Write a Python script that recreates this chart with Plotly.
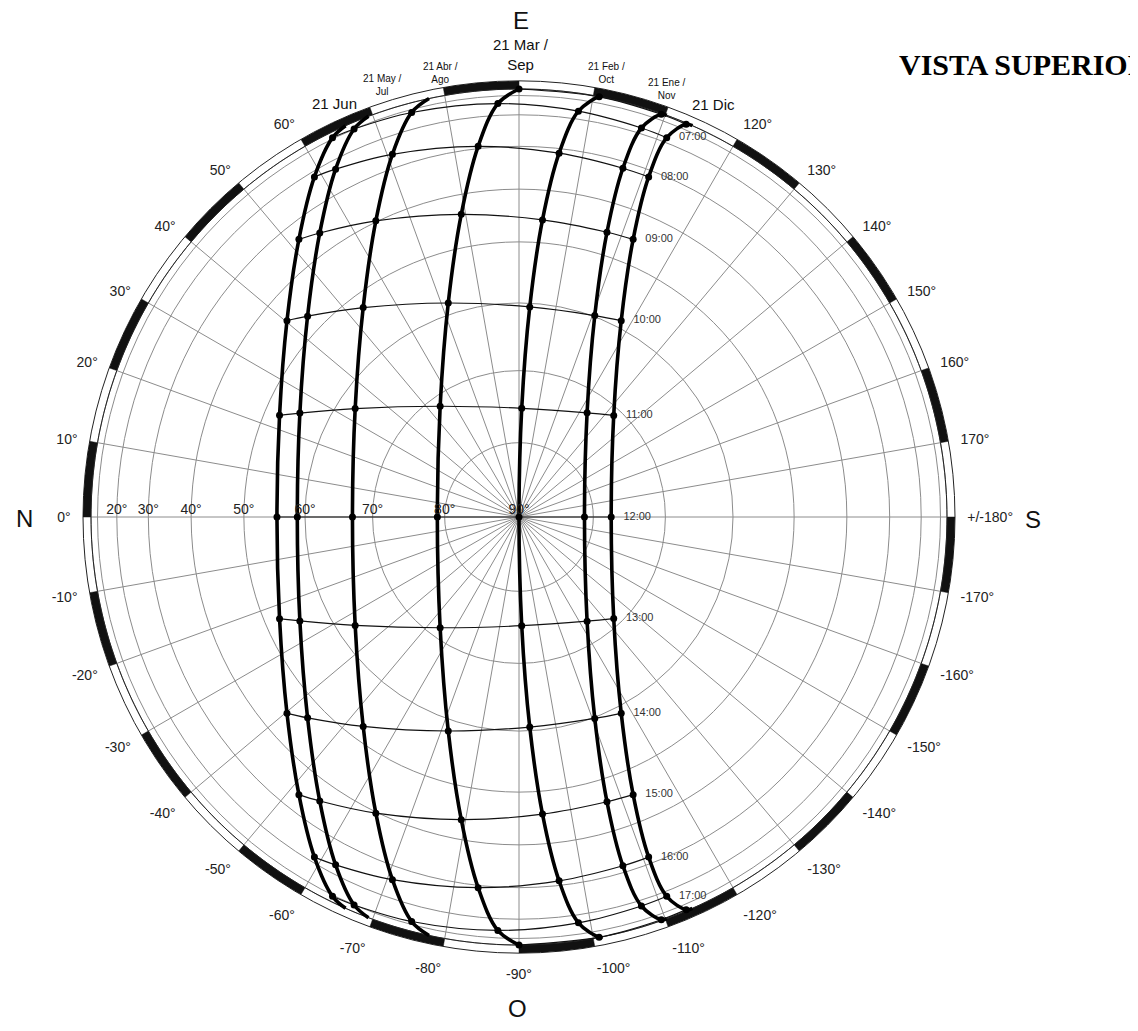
import numpy as np
import plotly.graph_objects as go

# ---------------- DATA ----------------
# Azimuth in degrees (N = 0, E = +90, S = +/-180, O = -90), altitude in degrees.
# Hour = solar hour of the point (None = sunrise / sunset on the horizon).
DATE_LABELS = ["21 Jun", "21 May / Jul", "21 Abr / Ago", "21 Mar / Sep",
               "21 Feb / Oct", "21 Ene / Nov", "21 Dic"]

JUN_HOUR = [None, 7, 8, 9, 10, 11, 12, 13, 14, 15, 16, 17, None]
JUN_AZ = [66.10, 63.82, 58.97, 51.60, 40.24, 23.00, 0.0,
          -23.00, -40.24, -51.60, -58.97, -63.82, -66.10]
JUN_ALT = [0.0, 9.04, 21.99, 34.12, 44.75, 52.57, 55.56,
           52.57, 44.75, 34.12, 21.99, 9.04, 0.0]

MAY_HOUR = [None, 7, 8, 9, 10, 11, 12, 13, 14, 15, 16, 17, None]
MAY_AZ = [69.41, 66.97, 62.20, 54.95, 43.53, 25.38, 0.0,
          -25.38, -43.53, -54.95, -62.20, -66.97, -69.41]
MAY_ALT = [0.0, 9.94, 23.25, 35.84, 47.05, 55.48, 58.80,
           55.48, 47.05, 35.84, 23.25, 9.94, 0.0]

ABR_HOUR = [None, 7, 8, 9, 10, 11, 12, 13, 14, 15, 16, 17, None]
ABR_AZ = [77.87, 75.14, 70.76, 64.20, 53.35, 33.49, 0.0,
          -33.49, -53.35, -64.20, -70.76, -75.14, -77.87]
ABR_ALT = [0.0, 12.08, 26.16, 39.78, 52.42, 62.68, 67.10,
           62.68, 52.42, 39.78, 26.16, 12.08, 0.0]

MAR_HOUR = [6, 7, 8, 9, 10, 11, 12, 13, 14, 15, 16, 17, 18]
MAR_AZ = [90.0, 87.07, 83.71, 79.20, 71.71, 54.55, 0.0,
          -54.55, -71.71, -79.20, -83.71, -87.07, -90.0]
MAR_ALT = [0.0, 14.72, 29.39, 43.96, 58.22, 71.48, 79.00,
           71.48, 58.22, 43.96, 29.39, 14.72, 0.0]

FEB_HOUR = [None, 6, 7, 8, 9, 10, 11, 12, 13, 14, 15, 16, 17, 18, None]
FEB_AZ = [101.21, 100.80, 98.33, 96.29, 94.52, 92.93, 91.44, 0.0,
          -91.44, -92.93, -94.52, -96.29, -98.33, -100.80, -101.21]
FEB_ALT = [0.0, 2.09, 16.61, 31.21, 45.87, 60.57, 75.28, 90.0,
           75.28, 60.57, 45.87, 31.21, 16.61, 2.09, 0.0]

ENE_HOUR = [None, 6, 7, 8, 9, 10, 11, 12, 13, 14, 15, 16, 17, 18, None]
ENE_AZ = [110.19, 109.46, 107.47, 106.59, 107.17, 110.62, 123.16, 180.0,
          -123.16, -110.62, -107.17, -106.59, -107.47, -109.46, -110.19]
ENE_ALT = [0.0, 3.71, 17.68, 31.76, 45.87, 59.82, 73.09, 81.20,
           73.09, 59.82, 45.87, 31.76, 17.68, 3.71, 0.0]

DIC_HOUR = [None, 6, 7, 8, 9, 10, 11, 12, 13, 14, 15, 16, 17, 18, None]
DIC_AZ = [113.90, 113.06, 111.28, 110.87, 112.35, 117.51, 132.99, 180.0,
          -132.99, -117.51, -112.35, -110.87, -111.28, -113.06, -113.90]
DIC_ALT = [0.0, 4.35, 18.00, 31.75, 45.46, 58.86, 71.06, 77.56,
           71.06, 58.86, 45.46, 31.75, 18.00, 4.35, 0.0]

HOUR_LABELS = ["07:00", "08:00", "09:00", "10:00", "11:00", "12:00",
               "13:00", "14:00", "15:00", "16:00", "17:00"]
LABELLED_HOURS = [7, 8, 9, 10, 11, 12, 13, 14, 15, 16, 17]
HOUR_LINE_HOURS = [6, 7, 8, 9, 10, 11, 12, 13, 14, 15, 16, 17, 18]

ALT_TICKS = [0, 10, 20, 30, 40, 50, 60, 70, 80, 90]
ALT_LABEL_VALUES = [20, 30, 40, 50, 60, 70, 80, 90]
ALT_LABEL_TEXT = ["20°", "30°", "40°", "50°", "60°", "70°", "80°", "90°"]
AZ_TICKS = list(range(0, 360, 10))
AZ_TICK_TEXT = ["0°", "10°", "20°", "30°", "40°", "50°", "60°", "", "", "", "", "",
                "120°", "130°", "140°", "150°", "160°", "170°", "+/-180°",
                "-170°", "-160°", "-150°", "-140°", "-130°", "-120°", "-110°",
                "-100°", "-90°", "-80°", "-70°", "-60°", "-50°", "-40°", "-30°",
                "-20°", "-10°"]

SERIES = [
    (JUN_HOUR, JUN_AZ, JUN_ALT),
    (MAY_HOUR, MAY_AZ, MAY_ALT),
    (ABR_HOUR, ABR_AZ, ABR_ALT),
    (MAR_HOUR, MAR_AZ, MAR_ALT),
    (FEB_HOUR, FEB_AZ, FEB_ALT),
    (ENE_HOUR, ENE_AZ, ENE_ALT),
    (DIC_HOUR, DIC_AZ, DIC_ALT),
]

# ---------------- layout helpers ----------------
OFF = 8                    # page body margin of the html page
W, H = 1130, 1015          # figure size (page 1138x1031 minus body margin)
CX, CY = 519, 517          # centre of the diagram in page pixels
R_OUT = 436                # outer edge of the dashed ring (px)
R_MAX = 1.0187             # radial range (horizon = 1.0)


def proj(alt):
    """Orthographic (top view) projection: radius = cos(altitude)."""
    return np.cos(np.radians(np.asarray(alt, dtype=float)))


def px(x):
    return (x - OFF) / W


def py(y):
    return 1 - (y - OFF) / H


FONT = "Liberation Sans, Arial, sans-serif"
fig = go.Figure()

# outer dashed ring (alternating 10° black segments)
ring_theta = list(range(5, 360, 20))
fig.add_trace(go.Barpolar(
    theta=ring_theta, r=[R_MAX - 1.0] * len(ring_theta), base=1.0,
    width=[10] * len(ring_theta), marker=dict(color="#111111", line=dict(width=0)),
    hoverinfo="skip", showlegend=False))

# horizon circle
circ = np.arange(0, 361, 1)
fig.add_trace(go.Scatterpolar(theta=circ, r=np.ones_like(circ, dtype=float), mode="lines",
                              line=dict(color="#222222", width=1), hoverinfo="skip",
                              showlegend=False))

# hour lines
for h in HOUR_LINE_HOURS:
    th, rr = [], []
    for hours, az, alt in SERIES:
        if h in hours:
            i = hours.index(h)
            th.append(az[i])
            rr.append(float(proj(alt[i])))
    fig.add_trace(go.Scatterpolar(theta=th, r=rr, mode="lines",
                                  line=dict(color="#111111", width=1.2, shape="spline"),
                                  hoverinfo="skip", showlegend=False))

# sun paths
for (hours, az, alt), name in zip(SERIES, DATE_LABELS):
    fig.add_trace(go.Scatterpolar(theta=az, r=proj(alt), mode="lines", name=name,
                                  line=dict(color="black", width=3.6, shape="spline"),
                                  showlegend=False))
    mh = [i for i, hh in enumerate(hours) if hh is not None]
    fig.add_trace(go.Scatterpolar(theta=[az[i] for i in mh], r=proj([alt[i] for i in mh]),
                                  mode="markers", marker=dict(color="black", size=7),
                                  showlegend=False, hoverinfo="skip"))

# altitude labels along the north axis
fig.add_trace(go.Scatterpolar(theta=[0] * len(ALT_LABEL_VALUES), r=proj(ALT_LABEL_VALUES),
                              mode="text", text=ALT_LABEL_TEXT, textposition="top center",
                              textfont=dict(family=FONT, size=14, color="#222222"),
                              showlegend=False, hoverinfo="skip"))

# hour labels beside the 21 Dic curve
idx = [DIC_HOUR.index(h) for h in LABELLED_HOURS]
fig.add_trace(go.Scatterpolar(theta=[DIC_AZ[i] for i in idx], r=proj([DIC_ALT[i] for i in idx]),
                              mode="text", text=["    " + t for t in HOUR_LABELS],
                              textposition="middle right",
                              textfont=dict(family=FONT, size=11, color="#333333"),
                              showlegend=False, hoverinfo="skip"))

fig.update_layout(
    width=W, height=H, margin=dict(l=0, r=0, t=0, b=0),
    paper_bgcolor="white", plot_bgcolor="white", showlegend=False,
    polar=dict(
        domain=dict(x=[px(CX - R_OUT), px(CX + R_OUT)], y=[py(CY + R_OUT), py(CY - R_OUT)]),
        bgcolor="white",
        angularaxis=dict(rotation=180, direction="clockwise", tickmode="array",
                         tickvals=AZ_TICKS, ticktext=AZ_TICK_TEXT,
                         showgrid=True, gridcolor="#8c8c8c", gridwidth=1,
                         showline=True, linecolor="#222222", linewidth=1,
                         ticks="outside", ticklen=9, tickcolor="rgba(0,0,0,0)",
                         tickfont=dict(family=FONT, size=14, color="#222222"),
                         layer="below traces"),
        radialaxis=dict(range=[0, R_MAX], tickmode="array",
                        tickvals=list(proj(ALT_TICKS)), showticklabels=False,
                        angle=180, showline=False, showgrid=True,
                        gridcolor="#8c8c8c", gridwidth=1, ticks="",
                        layer="below traces"),
    ),
)

ann = []
for txt, x, y, s in [("N", 24, 518, 24), ("S", 1033, 520, 24), ("E", 521, 21, 24), ("O", 517, 1008, 24),
                     ("21 Jun", 334, 103, 15), ("21 May /<br>Jul", 382, 85, 10),
                     ("21 Abr /<br>Ago", 441, 73, 10), ("21 Mar /<br>Sep", 521, 55, 15),
                     ("21 Feb /<br>Oct", 606, 73, 10), ("21 Ene /<br>Nov", 666, 89, 10),
                     ("21 Dic", 713, 104, 15)]:
    ann.append(dict(text=txt, x=px(x), y=py(y), xref="paper", yref="paper",
                    xanchor="center", yanchor="middle", showarrow=False,
                    font=dict(family=FONT, size=s, color="#111111")))
ann.append(dict(text="<b>VISTA SUPERIOR</b>", x=px(897), y=py(64), xref="paper", yref="paper",
                xanchor="left", yanchor="middle", showarrow=False,
                font=dict(family="Liberation Serif, Times New Roman, serif", size=30, color="black")))
fig.update_layout(annotations=ann)

fig.write_html("out.html")
